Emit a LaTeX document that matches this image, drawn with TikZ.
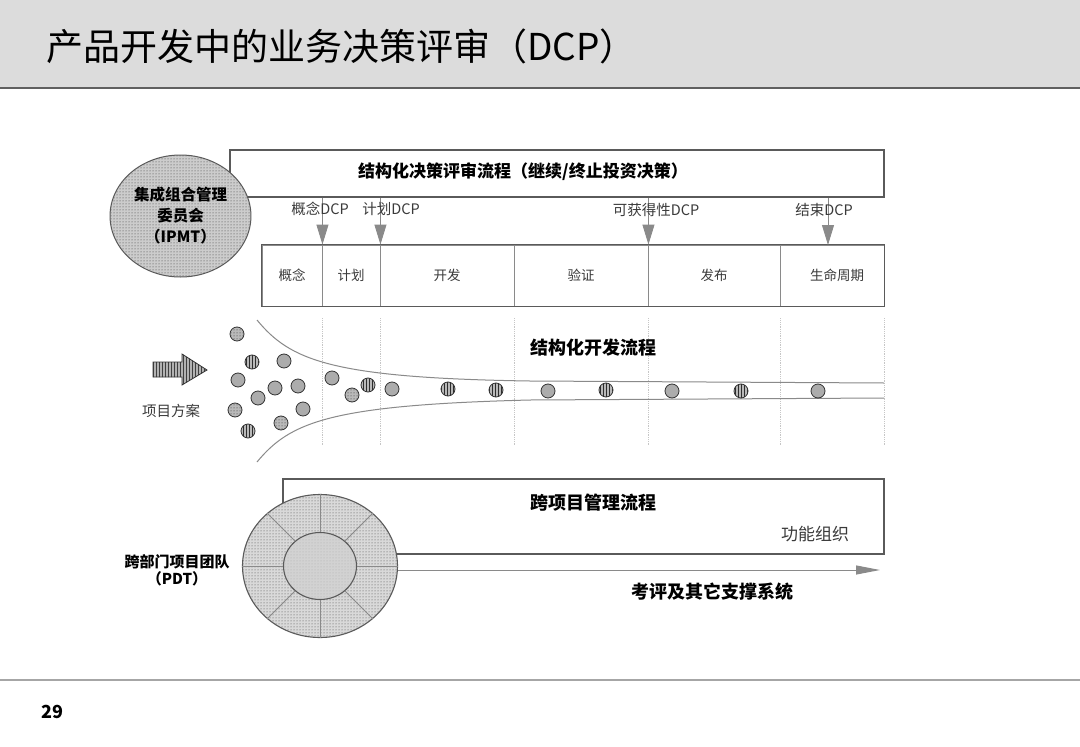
\documentclass[tikz,border=0pt]{standalone}
\usepackage{fontspec}
\setmainfont{Noto Sans CJK SC}
\usepackage{xcolor}
\usetikzlibrary{arrows.meta,positioning,calc,shapes.geometric,patterns}

\definecolor{hdrgray}{HTML}{DCDCDC}
\definecolor{linegray}{HTML}{8A8A8A}
\definecolor{boxgray}{HTML}{5A5A5A}
\definecolor{txtgray}{HTML}{3A3A3A}

\begin{document}
\begin{tikzpicture}[x=1pt, y=-1pt,
    box/.style={draw=boxgray, line width=1.1pt, inner sep=0pt},
    cell/.style={draw=linegray, line width=0.9pt, minimum height=61pt, inner sep=0pt, text=txtgray, font=\fontsize{13.5}{16}\selectfont},
    lbl/.style={inner sep=0pt, text=txtgray, font=\fontsize{14.5}{17}\selectfont},
    head/.style={inner sep=0pt, font=\bfseries\fontsize{18}{21}\selectfont},
    dcparr/.style={draw=linegray, line width=0.9pt, -{Triangle[length=20pt,width=12pt]}},
    suparr/.style={draw=linegray, line width=1pt, -{Triangle[length=24pt,width=9pt]}},
    guide/.style={draw=gray!45, densely dotted, line width=0.8pt},
    funnel/.style={draw=linegray, line width=1pt},
    spoke/.style={draw=linegray, line width=0.9pt},
    hatch/.style={preaction={fill=gray!40}, pattern=dots, pattern color=gray!45!black},
    pdot/.style={circle, draw=gray!40!black, line width=0.8pt, minimum size=14pt, inner sep=0pt, fill=gray!65},
    sdot/.style={pdot, preaction={fill=gray!55}, pattern=vertical lines, pattern color=gray!35!black},
    ddot/.style={pdot, preaction={fill=gray!55}, pattern=dots, pattern color=gray!35!black},
]
    \useasboundingbox (0,0) rectangle (1080,747);
    \fill[white] (0,0) rectangle (1080,747);

    % header and footer
    \fill[hdrgray] (0,0) rectangle (1080,88);
    \draw[gray!75!black, line width=2pt] (0,88) -- (1080,88);
    \node[anchor=west, inner sep=0pt, font=\fontsize{37}{42}\selectfont] (title) at (46,46) {产品开发中的业务决策评审（DCP）};
    \draw[gray!70, line width=2pt] (0,680) -- (1080,680);
    \node[inner sep=0pt, font=\bfseries\fontsize{18}{20}\selectfont] (pg) at (52,712) {29};

    % decision review
    \node[box, minimum width=654pt, minimum height=47pt] (dcp) at (557,173.5) {};
    \node[head, font=\bfseries\fontsize{17}{20}\selectfont] (dcptxt) at (523,172) {结构化决策评审流程（继续/终止投资决策）};
    \node[ellipse, draw=boxgray, line width=1pt, hatch, minimum width=133pt, minimum height=122pt, align=center, font=\bfseries\fontsize{15.5}{21}\selectfont] (ipmt) at (180.5,216) {集成组合管理\\委员会\\（IPMT）};

    \node[cell, minimum width=60pt] (p1) at (292,275.5) {概念};
    \node[cell, minimum width=58pt] (p2) at (351,275.5) {计划};
    \node[cell, minimum width=134pt] (p3) at (447,275.5) {开发};
    \node[cell, minimum width=134pt] (p4) at (581,275.5) {验证};
    \node[cell, minimum width=132pt] (p5) at (714,275.5) {发布};
    \node[cell, minimum width=104pt] (p6) at (832,275.5) {\hspace*{10pt}生命周期};
    \draw[box] (p1.north west) rectangle (p6.south east);

    \coordinate (e1) at (828,245);
    \draw[dcparr] (dcp.south -| p1.east) -- (p1.north east);
    \draw[dcparr] (dcp.south -| p2.east) -- (p2.north east);
    \draw[dcparr] (dcp.south -| p4.east) -- (p4.north east);
    \draw[dcparr] (dcp.south -| e1) -- (e1);
    \node[lbl] (l1) at (320,209) {概念DCP};
    \node[lbl] (l2) at (391,209) {计划DCP};
    \node[lbl] (l3) at (656,210) {可获得性DCP};
    \node[lbl] (l4) at (824,210) {结束DCP};

    % development funnel
    \foreach \n in {p1,p2,p3,p4,p5,p6}
        \draw[guide] ([yshift=-12pt]\n.south east) -- ([yshift=-139pt]\n.south east);
    \draw[funnel] (257,320) .. controls (290,360) and (330,378) .. (530,381) -- (884,383);
    \draw[funnel] (257,462) .. controls (290,422) and (330,405) .. (530,400) -- (884,398);
    \node[head] (devflow) at (593,348) {结构化开发流程};

    \node[ddot] (d1) at (237,334) {};
    \node[sdot] (d2) at (252,362) {};
    \node[pdot] (d3) at (284,361) {};
    \node[pdot] (d4) at (238,380) {};
    \node[pdot] (d5) at (275,388) {};
    \node[pdot] (d6) at (298,386) {};
    \node[pdot] (d7) at (258,398) {};
    \node[ddot] (d8) at (235,410) {};
    \node[pdot] (d9) at (303,409) {};
    \node[ddot] (d10) at (281,423) {};
    \node[sdot] (d11) at (248,431) {};
    \node[pdot] (d12) at (332,378) {};
    \node[ddot] (d13) at (352,395) {};
    \node[sdot] (d14) at (368,385) {};
    \node[pdot] (d15) at (392,389) {};
    \node[sdot] (d16) at (448,389) {};
    \node[sdot] (d17) at (496,390) {};
    \node[pdot] (d18) at (548,391) {};
    \node[sdot] (d19) at (606,390) {};
    \node[pdot] (d20) at (672,391) {};
    \node[sdot] (d21) at (741,391) {};
    \node[pdot] (d22) at (818,391) {};

    \draw[draw=gray!40!black, line width=0.8pt, preaction={fill=gray!60}, pattern=vertical lines, pattern color=gray!50!black]
        (153,362) -- (182,362) -- (182,354) -- (207,370) -- (182,385) -- (182,377) -- (153,377) -- cycle;
    \node[lbl] (prj) at (171,411) {项目方案};

    % cross-project process
    \node[box, minimum width=601pt, minimum height=75pt] (cross) at (583.5,516.5) {};
    \node[head] (crosstxt) at (593,503) {跨项目管理流程};
    \node[lbl, font=\fontsize{17}{20}\selectfont] (func) at (815,534) {功能组织};

    \node[ellipse, draw=boxgray, line width=1.1pt, preaction={fill=gray!30}, pattern=dots, pattern color=gray!55!black, minimum width=155pt, minimum height=143pt] (pdt) at (320,566) {};
    \node[ellipse, draw=boxgray, line width=1.1pt, preaction={fill=gray!35}, pattern=dots, pattern color=gray!65, minimum width=73pt, minimum height=67pt] (pdtin) at (320,566) {};
    \foreach \a in {0,45,...,315}
        \draw[spoke] (pdtin.\a) -- (pdt.\a);
    \node[head, align=center, font=\bfseries\fontsize{15}{17}\selectfont] (pdtlbl) at (177,570) {跨部门项目团队\\（PDT）};

    \coordinate (supend) at (880,570);
    \draw[suparr] ([yshift=-4pt]pdt.east) -- (supend);
    \node[head] (suptxt) at (712,592) {考评及其它支撑系统};
\end{tikzpicture}
\end{document}
